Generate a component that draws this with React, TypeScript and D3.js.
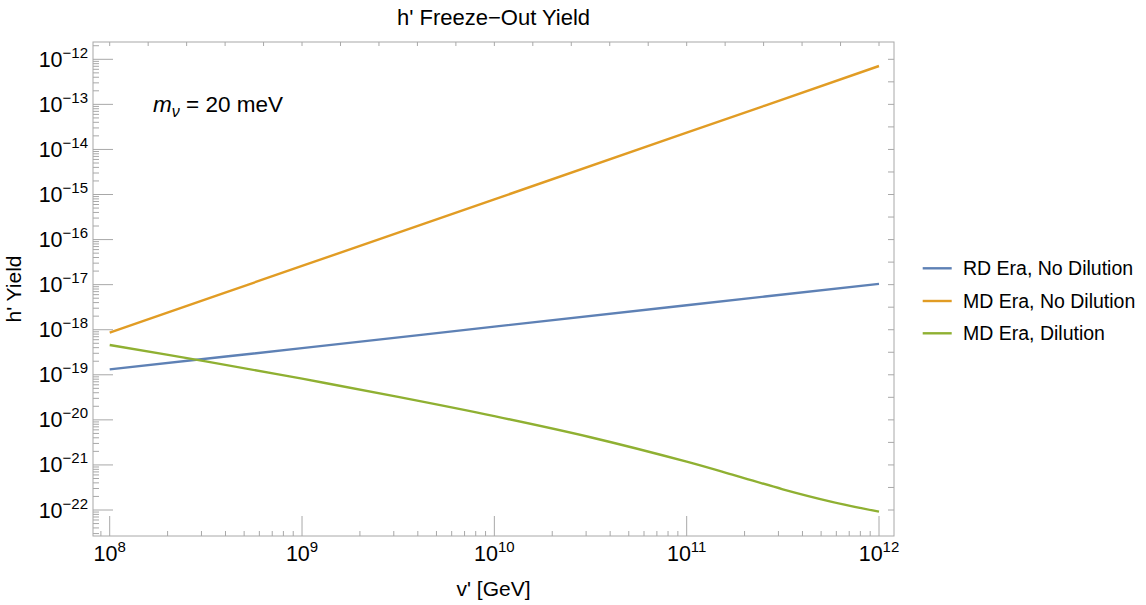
import React, { useEffect, useRef } from 'react';
import * as d3 from 'd3';

// v' values (GeV) and yields
const rdV = [1e8, 1e9, 1e10, 1e11, 1e12];
const rdYield = [1.32e-19, 3.9e-19, 1.17e-18, 3.5e-18, 1.04e-17];

const mdV = [1e8, 1e9, 1e10, 1e11, 1e12];
const mdYield = [8.6e-19, 2.6e-17, 7.8e-16, 2.35e-14, 7.1e-13];

const mdDilV = [1e8, 3.16e8, 1e9, 3.16e9, 1e10, 3.16e10, 1e11, 1.78e11, 3.16e11, 5.62e11, 1e12];
const mdDilYield = [4.58e-19, 1.98e-19, 8.2e-20, 3.23e-20, 1.21e-20, 4.12e-21, 1.18e-21, 5.86e-22, 2.88e-22, 1.54e-22, 9.2e-23];

const seriesNames = ['RD Era, No Dilution', 'MD Era, No Dilution', 'MD Era, Dilution'];
const seriesColors = ['#5e81b5', '#e19c24', '#8fb032'];

const xTickExps = [8, 9, 10, 11, 12];
const yTickExps = [-12, -13, -14, -15, -16, -17, -18, -19, -20, -21, -22];

const FONT = '"Liberation Sans", Arial, sans-serif';

function App() {
  const ref = useRef<SVGSVGElement>(null);

  useEffect(() => {
    const svg = d3.select(ref.current);
    svg.selectAll('*').remove();

    const W = 1146;
    const H = 605;
    const frame = { left: 93, right: 894, top: 42, bottom: 536 };

    const x = d3.scaleLog().domain([1e8, 1e12]).range([109.7, 879]);
    const y = d3.scaleLog().domain([1e-22, 1e-12]).range([510, 59.3]);

    svg.append('rect').attr('width', W).attr('height', H).attr('fill', '#fff');

    const tickColor = '#a8a8a8';
    const ticks = svg.append('g').attr('stroke', tickColor).attr('stroke-width', 1);

    // bottom: decades long, 2..9 short
    const xLo = x.invert(frame.left);
    const xHi = x.invert(frame.right);
    for (let e = 7; e <= 12; e++) {
      for (let k = 1; k <= 9; k++) {
        const v = k * Math.pow(10, e);
        if (v < xLo || v > xHi) continue;
        const px = x(v);
        const len = k === 1 ? 20 : 5;
        ticks.append('line')
          .attr('x1', px).attr('x2', px)
          .attr('y1', frame.bottom).attr('y2', frame.bottom - len);
      }
    }
    // top: every 0.2 decade
    for (let i = 0; i <= 20; i++) {
      const px = x(Math.pow(10, 8 + i * 0.2));
      ticks.append('line')
        .attr('x1', px).attr('x2', px)
        .attr('y1', frame.top).attr('y2', frame.top + 4);
    }
    // left: decades long, 2..9 short
    const yLo = y.invert(frame.bottom);
    const yHi = y.invert(frame.top);
    for (let e = -23; e <= -12; e++) {
      for (let k = 1; k <= 9; k++) {
        const v = k * Math.pow(10, e);
        if (v < yLo || v > yHi) continue;
        const py = y(v);
        const len = k === 1 ? 20 : 6;
        ticks.append('line')
          .attr('x1', frame.left).attr('x2', frame.left + len)
          .attr('y1', py).attr('y2', py);
      }
    }
    // right: every half decade
    for (let i = 0; i <= 20; i++) {
      const py = y(Math.pow(10, -12 - i * 0.5));
      ticks.append('line')
        .attr('x1', frame.right).attr('x2', frame.right - 6)
        .attr('y1', py).attr('y2', py);
    }

    svg.append('rect')
      .attr('x', frame.left).attr('y', frame.top)
      .attr('width', frame.right - frame.left).attr('height', frame.bottom - frame.top)
      .attr('fill', 'none').attr('stroke', tickColor).attr('stroke-width', 1);

    // tick labels
    const lbl = svg.append('g').attr('font-family', FONT).attr('fill', '#000');
    xTickExps.forEach((e) => {
      const t = lbl.append('text')
        .attr('x', x(Math.pow(10, e))).attr('y', 561)
        .attr('text-anchor', 'middle').attr('font-size', 21.5);
      t.append('tspan').text('10');
      t.append('tspan').attr('dy', -9).attr('font-size', 15).text(String(e));
    });
    yTickExps.forEach((e) => {
      const t = lbl.append('text')
        .attr('x', 88).attr('y', y(Math.pow(10, e)) + 7.5)
        .attr('text-anchor', 'end').attr('font-size', 21.5);
      t.append('tspan').text('10');
      t.append('tspan').attr('dy', -9).attr('font-size', 15).text('\u2212' + Math.abs(e));
    });

    // lines
    const series = [
      { v: rdV, yv: rdYield },
      { v: mdV, yv: mdYield },
      { v: mdDilV, yv: mdDilYield },
    ];
    const line = d3.line<[number, number]>()
      .x((d) => x(d[0]))
      .y((d) => y(d[1]))
      .curve(d3.curveCatmullRom.alpha(0.5));
    series.forEach((s, i) => {
      const pts = s.v.map((v, j) => [v, s.yv[j]] as [number, number]);
      svg.append('path')
        .attr('d', line(pts))
        .attr('fill', 'none')
        .attr('stroke', seriesColors[i])
        .attr('stroke-width', 2.4);
    });

    // title and axis labels
    svg.append('text')
      .attr('x', (frame.left + frame.right) / 2).attr('y', 25)
      .attr('text-anchor', 'middle').attr('font-family', FONT).attr('font-size', 22)
      .text('h\' Freeze\u2212Out Yield');
    svg.append('text')
      .attr('x', (frame.left + frame.right) / 2).attr('y', 596)
      .attr('text-anchor', 'middle').attr('font-family', FONT).attr('font-size', 21)
      .text('v\' [GeV]');
    svg.append('text')
      .attr('transform', `translate(21,${(frame.top + frame.bottom) / 2}) rotate(-90)`)
      .attr('text-anchor', 'middle').attr('font-family', FONT).attr('font-size', 21)
      .text('h\' Yield');

    // annotation
    const ann = svg.append('text')
      .attr('x', 153).attr('y', 111.7)
      .attr('font-family', FONT).attr('font-size', 22.5);
    ann.append('tspan').attr('font-style', 'italic').text('m');
    ann.append('tspan').attr('font-style', 'italic').attr('font-size', 16).attr('dy', 5).text('\u03bd');
    ann.append('tspan').attr('dy', -5).text(' = 20 meV');

    // legend
    const leg = svg.append('g').attr('font-family', FONT);
    const legY = [268.3, 301, 333.3];
    seriesNames.forEach((name, i) => {
      leg.append('line')
        .attr('x1', 922.7).attr('x2', 951.7)
        .attr('y1', legY[i]).attr('y2', legY[i])
        .attr('stroke', seriesColors[i]).attr('stroke-width', 2.4);
      leg.append('text')
        .attr('x', 963).attr('y', legY[i] + 6.5)
        .attr('font-size', 19.5).text(name);
    });
  }, []);

  return (
    <svg
      ref={ref}
      width={1146}
      height={605}
      style={{ position: 'absolute', left: 0, top: 0 }}
    />
  );
}

export default App;
